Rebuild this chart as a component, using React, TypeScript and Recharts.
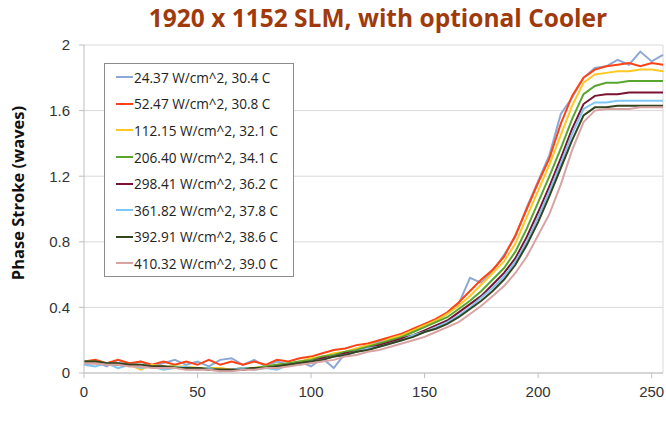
import React from 'react';
import { LineChart, Line, XAxis, YAxis, CartesianGrid, Legend, ReferenceLine } from 'recharts';

// gray level (0..255) sampled every 5 steps
const levels = [
  0, 5, 10, 15, 20, 25, 30, 35, 40, 45, 50, 55, 60, 65, 70, 75, 80, 85, 90, 95,
  100, 105, 110, 115, 120, 125, 130, 135, 140, 145, 150, 155, 160, 165, 170, 175,
  180, 185, 190, 195, 200, 205, 210, 215, 220, 225, 230, 235, 240, 245, 250, 255,
];

const p24 = [
  0.05, 0.07, 0.04, 0.08, 0.05, 0.07, 0.04, 0.06, 0.08, 0.05, 0.07, 0.04, 0.08, 0.09, 0.05, 0.08, 0.04, 0.07, 0.05, 0.07,
  0.04, 0.09, 0.03, 0.12, 0.15, 0.17, 0.19, 0.21, 0.24, 0.26,
  0.29, 0.32, 0.36, 0.42, 0.58, 0.55, 0.62, 0.72, 0.83, 1.01,
  1.17, 1.33, 1.58, 1.68, 1.80, 1.86, 1.87, 1.91, 1.88, 1.96, 1.90, 1.94,
];
const p52 = [
  0.07, 0.08, 0.06, 0.08, 0.06, 0.07, 0.05, 0.07, 0.05, 0.07, 0.05, 0.08, 0.05, 0.07, 0.05, 0.07, 0.05, 0.08, 0.07, 0.09,
  0.10, 0.12, 0.14, 0.15, 0.17, 0.18, 0.20, 0.22, 0.24, 0.27,
  0.30, 0.33, 0.37, 0.43, 0.50, 0.57, 0.63, 0.71, 0.84, 1.00,
  1.16, 1.31, 1.52, 1.69, 1.80, 1.85, 1.87, 1.88, 1.89, 1.87, 1.89, 1.88,
];
const p112 = [
  0.07, 0.06, 0.06, 0.05, 0.05, 0.02, 0.05, 0.04, 0.04, 0.04, 0.03, 0.03, 0.03, 0.02, 0.03, 0.03, 0.04, 0.05, 0.06, 0.07,
  0.09, 0.10, 0.12, 0.13, 0.15, 0.17, 0.18, 0.21, 0.23, 0.26,
  0.29, 0.32, 0.36, 0.41, 0.47, 0.54, 0.61, 0.68, 0.79, 0.95,
  1.11, 1.27, 1.45, 1.63, 1.77, 1.82, 1.83, 1.84, 1.84, 1.85, 1.85, 1.84,
];
const p206 = [
  0.07, 0.07, 0.06, 0.06, 0.05, 0.05, 0.04, 0.04, 0.04, 0.03, 0.03, 0.03, 0.02, 0.02, 0.03, 0.03, 0.04, 0.05, 0.06, 0.07,
  0.08, 0.10, 0.11, 0.13, 0.14, 0.16, 0.18, 0.20, 0.22, 0.25,
  0.28, 0.31, 0.34, 0.39, 0.44, 0.50, 0.57, 0.64, 0.74, 0.88,
  1.04, 1.20, 1.37, 1.55, 1.70, 1.75, 1.77, 1.77, 1.78, 1.78, 1.78, 1.78,
];
const p298 = [
  0.06, 0.06, 0.06, 0.05, 0.05, 0.04, 0.04, 0.04, 0.03, 0.03, 0.03, 0.02, 0.02, 0.02, 0.02, 0.03, 0.03, 0.04, 0.05, 0.06,
  0.07, 0.09, 0.10, 0.12, 0.13, 0.15, 0.17, 0.19, 0.21, 0.23,
  0.26, 0.29, 0.32, 0.37, 0.42, 0.47, 0.54, 0.61, 0.70, 0.83,
  0.98, 1.14, 1.31, 1.49, 1.64, 1.69, 1.70, 1.70, 1.71, 1.71, 1.71, 1.71,
];
const p361 = [
  0.05, 0.04, 0.06, 0.03, 0.05, 0.03, 0.04, 0.02, 0.03, 0.04, 0.02, 0.03, 0.01, 0.02, 0.03, 0.02, 0.03, 0.02, 0.05, 0.05,
  0.07, 0.08, 0.10, 0.11, 0.13, 0.15, 0.16, 0.18, 0.20, 0.23,
  0.25, 0.28, 0.31, 0.35, 0.40, 0.46, 0.52, 0.59, 0.68, 0.80,
  0.95, 1.11, 1.28, 1.46, 1.61, 1.65, 1.65, 1.66, 1.66, 1.66, 1.66, 1.66,
];
const p392 = [
  0.07, 0.07, 0.06, 0.06, 0.05, 0.05, 0.04, 0.04, 0.03, 0.03, 0.03, 0.02, 0.02, 0.02, 0.02, 0.03, 0.03, 0.04, 0.05, 0.06,
  0.07, 0.08, 0.10, 0.11, 0.13, 0.14, 0.16, 0.18, 0.20, 0.22,
  0.25, 0.27, 0.30, 0.34, 0.39, 0.44, 0.50, 0.57, 0.66, 0.78,
  0.92, 1.08, 1.25, 1.42, 1.57, 1.62, 1.62, 1.63, 1.63, 1.63, 1.63, 1.63,
];
const p410 = [
  0.06, 0.06, 0.05, 0.05, 0.04, 0.04, 0.03, 0.03, 0.03, 0.02, 0.02, 0.02, 0.01, 0.01, 0.02, 0.02, 0.03, 0.03, 0.04, 0.05,
  0.06, 0.07, 0.08, 0.10, 0.11, 0.13, 0.14, 0.16, 0.18, 0.20,
  0.22, 0.25, 0.28, 0.31, 0.36, 0.41, 0.47, 0.53, 0.61, 0.71,
  0.84, 0.97, 1.15, 1.36, 1.53, 1.60, 1.61, 1.61, 1.61, 1.62, 1.62, 1.62,
];

const seriesNames = [
  '24.37 W/cm^2, 30.4 C',
  '52.47 W/cm^2, 30.8 C',
  '112.15 W/cm^2, 32.1 C',
  '206.40 W/cm^2, 34.1 C',
  '298.41 W/cm^2, 36.2 C',
  '361.82 W/cm^2, 37.8 C',
  '392.91 W/cm^2, 38.6 C',
  '410.32 W/cm^2, 39.0 C',
];
const seriesValues = [p24, p52, p112, p206, p298, p361, p392, p410];
const xTicks = [0, 50, 100, 150, 200, 250];
const yTicks = [0, 0.4, 0.8, 1.2, 1.6, 2];

const COLORS = ['#8DA8D6', '#FF4216', '#FFC823', '#58A630', '#7A1232', '#7FC6F4', '#34441F', '#D9A3A3'];

const data = levels.map((x, i) => {
  const row: any = { x };
  seriesValues.forEach((s, k) => { row['s' + k] = s[i]; });
  return row;
});

const tickStyle = { fontFamily: '"Liberation Sans", Arial, sans-serif', fontSize: 15, fill: '#333' };

const renderLegend = () => (
  <div style={{ border: '1px solid #8c8c8c', background: '#fff', width: 188, height: 212, fontFamily: '"Open Sans", sans-serif' }}>
    {seriesNames.map((n, i) => (
      <div key={n} style={{ display: 'flex', alignItems: 'center', height: 26.6 }}>
        <span style={{ display: 'inline-block', width: 17, height: 2, background: COLORS[i], marginLeft: 11 }} />
        <span style={{ fontSize: 13.6, color: '#222', marginLeft: 1, whiteSpace: 'nowrap' }}>{n}</span>
      </div>
    ))}
  </div>
);

export default function App() {
  return (
    <div style={{ position: 'relative', width: 666, height: 441, background: '#fff' }}>
      <style>{'body{margin:0}'}</style>
      <div style={{
        position: 'absolute', top: 1, left: 0, width: 756, textAlign: 'center', lineHeight: '34px',
        fontFamily: '"Open Sans", sans-serif', fontWeight: 700, fontSize: 24.5, color: '#A03A0C',
      }}>
        1920 x 1152 SLM, with optional Cooler
      </div>
      <div style={{
        position: 'absolute', left: 17, top: 193, transform: 'translate(-50%, -50%) rotate(-90deg)',
        whiteSpace: 'nowrap', fontFamily: '"Open Sans", sans-serif', fontWeight: 700, fontSize: 16.5, color: '#111',
      }}>
        Phase Stroke (waves)
      </div>
      <LineChart width={666} height={441} data={data} margin={{ top: 45, right: 3, bottom: 0, left: 0 }}>
        <CartesianGrid horizontal vertical={false} stroke="#d9d9d9" />
        <XAxis
          dataKey="x"
          type="number"
          domain={[0, 255]}
          ticks={xTicks}
          height={68}
          stroke="#bfbfbf"
          tickSize={5}
          tickMargin={8}
          tick={tickStyle}
        />
        <YAxis
          type="number"
          domain={[0, 2]}
          ticks={yTicks}
          width={84}
          stroke="#bfbfbf"
          tickSize={5}
          tickMargin={9}
          tick={tickStyle}
          tickFormatter={(v: number) => String(v)}
        />
        <ReferenceLine x={255} stroke="#d9d9d9" />
        <Legend
          layout="horizontal"
          verticalAlign="middle"
          align="center"
          content={renderLegend}
          wrapperStyle={{ left: 104, top: 63, width: 190, height: 214 }}
        />
        {seriesNames.map((n, k) => (
          <Line
            key={n}
            type="linear"
            dataKey={'s' + k}
            name={n}
            stroke={COLORS[k]}
            strokeWidth={2}
            dot={false}
            isAnimationActive={false}
          />
        ))}
      </LineChart>
    </div>
  );
}
